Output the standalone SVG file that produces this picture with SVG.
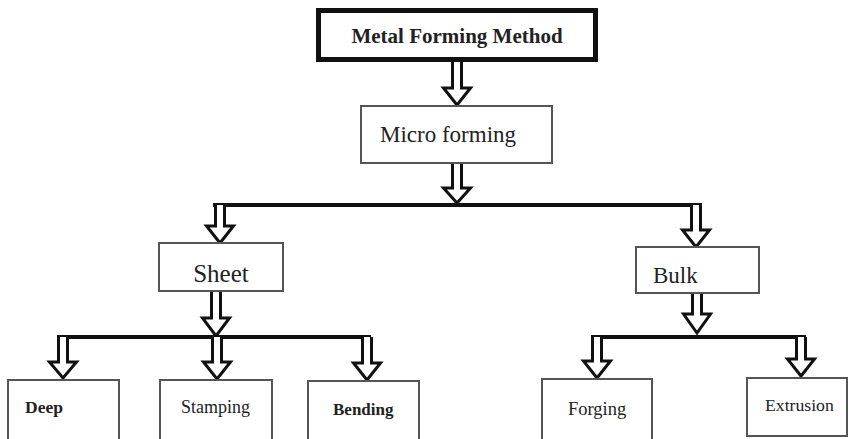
<svg xmlns="http://www.w3.org/2000/svg" width="849" height="439" viewBox="0 0 849 439">
<style>
.box{fill:#fff;stroke:#555;stroke-width:2}
.main{fill:#fff;stroke:#111;stroke-width:5}
.arr{fill:#fff;stroke:#111;stroke-width:3;stroke-linejoin:miter}
.bar{stroke:#111;stroke-width:4;fill:none}
text{fill:#222;font-family:"Liberation Serif","Times New Roman",Times,"DejaVu Serif",serif}
</style>
<rect x="0" y="0" width="849" height="439" fill="#fff"/>
<g id="connectors">
<line class="bar" x1="213" y1="205" x2="702" y2="205"/>
<line class="bar" x1="57" y1="337" x2="371" y2="337"/>
<line class="bar" x1="591" y1="337" x2="806" y2="337"/>
<path class="arr" d="M452.5,62 V88 H443.5 L457,105 L470.5,88 H461.5 V62"/>
<path class="arr" d="M452.5,163 V188 H443.5 L457,203 L470.5,188 H461.5 V163"/>
<path class="arr" d="M215.5,205 V226 H206.5 L220,243 L233.5,226 H224.5 V205"/>
<path class="arr" d="M691.5,205 V230 H682.5 L696,247 L709.5,230 H700.5 V205"/>
<path class="arr" d="M211.5,291 V318 H202.5 L216,336 L229.5,318 H220.5 V291"/>
<path class="arr" d="M692.5,293 V314 H683.5 L697,333 L710.5,314 H701.5 V293"/>
<path class="arr" d="M58.5,337 V362 H49.5 L63,378 L76.5,362 H67.5 V337"/>
<path class="arr" d="M212.5,337 V362 H203.5 L217,379 L230.5,362 H221.5 V337"/>
<path class="arr" d="M362.5,337 V363 H353.5 L367,380 L380.5,363 H371.5 V337"/>
<path class="arr" d="M592.5,337 V361 H583.5 L597,378 L610.5,361 H601.5 V337"/>
<path class="arr" d="M796.5,337 V359 H787.5 L801,376 L814.5,359 H805.5 V337"/>
</g>
<g id="metal">
<rect class="main" x="318.5" y="10.5" width="277" height="49"/>
<text x="457" y="43" font-size="21" font-weight="bold" text-anchor="middle">Metal Forming Method</text>
</g>
<g id="micro">
<rect class="box" x="361" y="106" width="191" height="57"/>
<text x="448" y="142" font-size="23" text-anchor="middle">Micro forming</text>
</g>
<g id="sheet">
<rect class="box" x="159" y="243" width="124" height="48"/>
<text x="221" y="282" font-size="25" text-anchor="middle">Sheet</text>
</g>
<g id="bulk">
<rect class="box" x="636" y="247" width="123" height="46"/>
<text x="653" y="283" font-size="23">Bulk</text>
</g>
<g id="deep">
<rect class="box" x="8" y="380" width="111" height="62"/>
<text x="25" y="413" font-size="17.5" font-weight="bold">Deep</text>
</g>
<g id="stamping">
<rect class="box" x="160" y="380" width="112" height="62"/>
<text x="181" y="413" font-size="18">Stamping</text>
</g>
<g id="bending">
<rect class="box" x="308" y="381" width="111" height="61"/>
<text x="333" y="415" font-size="17" font-weight="bold">Bending</text>
</g>
<g id="forging">
<rect class="box" x="542" y="379" width="110" height="63"/>
<text x="568" y="415" font-size="18.5">Forging</text>
</g>
<g id="extrusion">
<rect class="box" x="747" y="378" width="100" height="58"/>
<text x="765" y="411" font-size="17.7">Extrusion</text>
</g>
</svg>
